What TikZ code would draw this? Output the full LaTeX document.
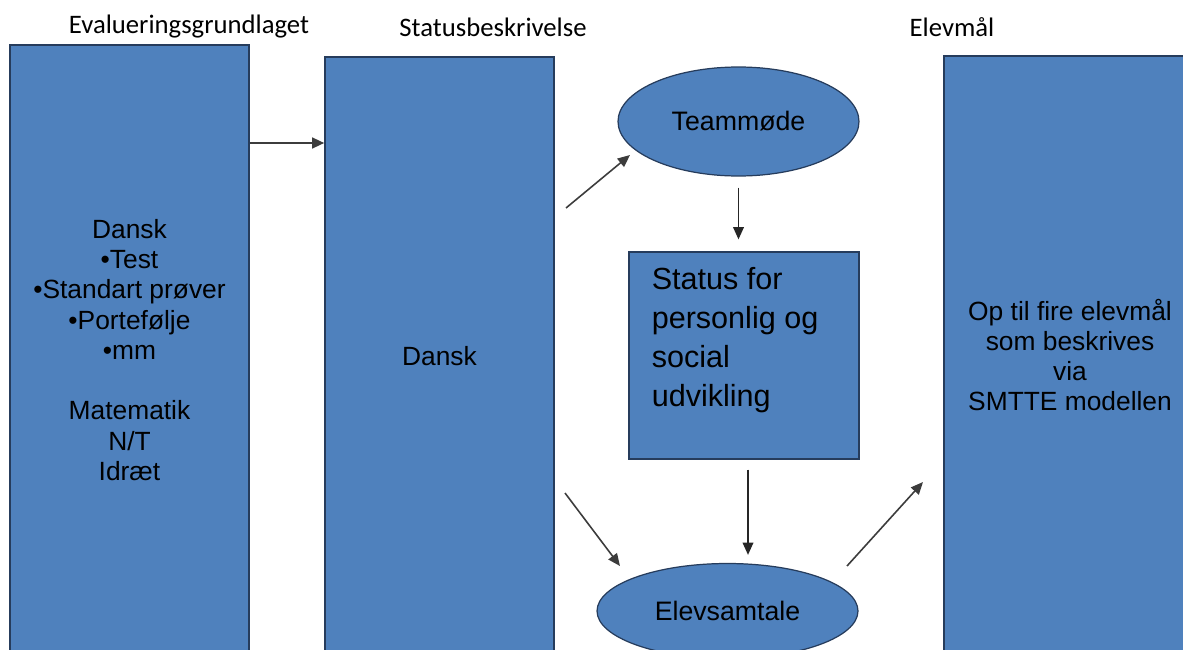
\documentclass[tikz,border=0pt]{standalone}
\usepackage{fontspec}
\setmainfont{Liberation Sans}
\newfontfamily\headfont{Carlito}
\usepackage{tikz}
\usetikzlibrary{arrows.meta}
\usetikzlibrary{shapes.geometric}
\usetikzlibrary{positioning}
\definecolor{boxblue}{RGB}{79,129,189}
\definecolor{boxline}{RGB}{38,60,92}
\definecolor{arrowgray}{RGB}{60,60,60}
\tikzset{bluebox/.style={draw=boxline, fill=boxblue, line width=0.7pt,
    rectangle, inner sep=0pt, align=center,
    font=\fontsize{15}{17.2}\selectfont}}
\tikzset{blueoval/.style={draw=boxline, fill=boxblue, line width=0.7pt,
    ellipse, inner sep=0pt, font=\fontsize{15.2}{17}\selectfont}}
\tikzset{headline/.style={font=\headfont\fontsize{15.2}{17}\selectfont}}
\tikzset{mainarrow/.style={-{Triangle[length=7pt,width=6pt]}, line width=1.6pt, draw=arrowgray}}
\tikzset{downarrow/.style={-{Triangle[length=7pt,width=6pt]}, line width=1.1pt, draw=black!85}}
\tikzset{sidearrow/.style={-{Triangle[length=7pt,width=6pt]}, line width=0.9pt, draw=arrowgray}}

\begin{document}
\begin{tikzpicture}[x=0.02cm, y=-0.02cm]
  \clip (0,0) rectangle (1183,649);
  \fill[white] (0,0) rectangle (1183,649);

  % overskrifter
  \node[headline] (evalhead) at (189,27) {Evalueringsgrundlaget};
  \node[headline] (stathead) at (493,27) {Statusbeskrivelse};
  \node[headline] (elevhead) at (952,27) {Elevmål};

  % kasser
  \node[bluebox, minimum width=4.78cm, minimum height=12.2cm] (evalbox) at (129.5,350)
    {Dansk\\•Test\\•Standart prøver\\•Portefølje\\•mm\\[17.2pt]Matematik\\N/T\\Idræt};
  \node[bluebox, minimum width=4.58cm, minimum height=11.96cm] (statbox) at (439.5,356) {Dansk};
  \node[bluebox, minimum width=5.04cm, minimum height=11.96cm] (elevbox) at (1070,355)
    {Op til fire elevmål\\som beskrives\\via\\SMTTE modellen};

  \node[blueoval, minimum width=4.82cm, minimum height=2.18cm] (teammode) at (738.5,121.5) {Teammøde};
  \node[bluebox, minimum width=4.6cm, minimum height=4.14cm] (status) at (744,355.5) {};
  \node[anchor=north west, align=left, inner sep=0pt,
    font=\fontsize{17.4}{22.2}\selectfont] (statustext) at ([xshift=0.46cm,yshift=-0.32cm]status.north west)
    {Status for\\personlig og\\social\\udvikling};
  \node[blueoval, minimum width=5.22cm, minimum height=1.9cm] (samtale) at (727.5,611) {Elevsamtale};

  % pile
  \coordinate (arrowline) at (0,143);
  \draw[mainarrow] (evalbox.east |- arrowline) -- (statbox.west |- arrowline);

  \coordinate (upstart) at (566,208);
  \coordinate (upend) at (630,155);
  \draw[sidearrow] (upstart) -- (upend);

  \coordinate (downstart) at (565,493);
  \coordinate (downend) at (620,566);
  \draw[sidearrow] (downstart) -- (downend);

  \coordinate (goalstart) at (847,566);
  \coordinate (goalend) at (923,482);
  \draw[sidearrow] (goalstart) -- (goalend);

  \draw[downarrow, shorten <=0.22cm, shorten >=0.24cm] (teammode.south) -- (teammode.south |- status.north);
  \draw[downarrow, shorten <=0.2cm, shorten >=0.16cm] ([xshift=0.08cm]status.south) -- ([xshift=0.08cm]status.south |- samtale.north);
\end{tikzpicture}
\end{document}
